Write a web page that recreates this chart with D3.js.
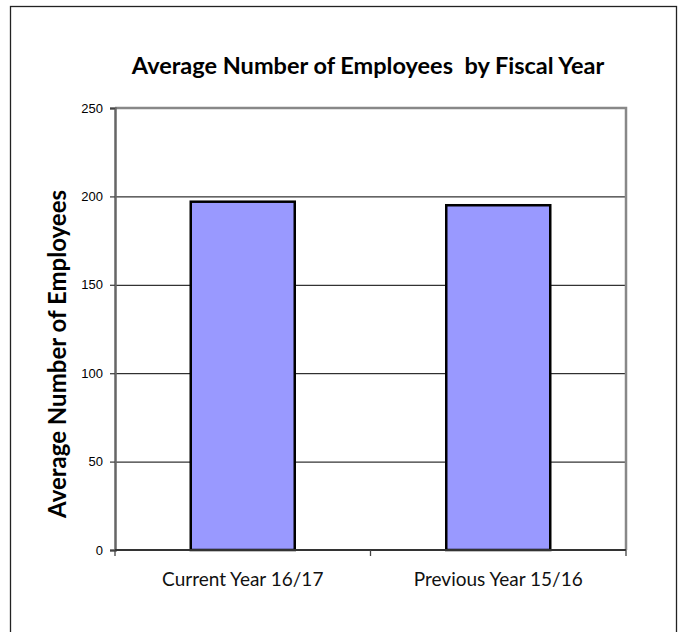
<!DOCTYPE html>
<html><head><meta charset="utf-8">
<script src="https://cdn.jsdelivr.net/npm/d3@7"></script>
<style>body{margin:0;background:#fff}</style>
</head><body>
<script>
const categories = ["Current Year 16/17", "Previous Year 15/16"];
const values = [197, 195];
const yTicks = [0, 50, 100, 150, 200, 250];
const title = "Average Number of Employees  by Fiscal Year";
const yTitle = "Average Number of Employees";

const W = 684, H = 632;
const svg = d3.select("body").append("svg").attr("width", W).attr("height", H);
svg.append("rect").attr("width", W).attr("height", H).attr("fill", "#fff");
// outer frame
svg.append("rect").attr("x", 10.5).attr("y", 6.5).attr("width", 666).attr("height", 640)
  .attr("fill", "none").attr("stroke", "#222").attr("stroke-width", 1.3);

const L = 115, R = 626, T = 108, B = 550;
const x = d3.scaleBand().domain(categories).range([L, R]).paddingInner(0).paddingOuter(0);
const y = d3.scaleLinear().domain([0, 250]).range([B, T]);

// gridlines
svg.append("g").selectAll("line").data(yTicks.filter(d => d > 0 && d < 250)).join("line")
  .attr("x1", L).attr("x2", R).attr("y1", d => y(d) + 0.5).attr("y2", d => y(d) + 0.5)
  .attr("stroke", "#000").attr("stroke-width", 1);

// plot border top/right
svg.append("path").attr("d", `M${L},${T}H${R}V${B}`).attr("fill", "none")
  .attr("stroke", "#888").attr("stroke-width", 2.5);

// bars
const bw = 104;
svg.append("g").selectAll("rect").data(categories).join("rect")
  .attr("x", d => x(d) + x.bandwidth() / 2 - bw / 2)
  .attr("y", (d, i) => y(values[i]))
  .attr("width", bw)
  .attr("height", (d, i) => B - y(values[i]))
  .attr("fill", "#9999ff").attr("stroke", "#000").attr("stroke-width", 2.5);

// y axis
const yAxis = d3.axisLeft(y).tickValues(yTicks).tickSize(5).tickPadding(7);
const gy = svg.append("g").attr("transform", `translate(${L},0)`).call(yAxis);
gy.select(".domain").attr("stroke", "#666").attr("stroke-width", 2.5);
gy.selectAll(".tick line").attr("stroke", "#444").attr("stroke-width", 1.3);
gy.selectAll(".tick text").attr("font-family", "Liberation Sans, Arial, sans-serif")
  .attr("font-size", 13).attr("fill", "#000");

// x axis
const gx = svg.append("g").attr("transform", `translate(0,${B})`);
gx.append("line").attr("x1", L).attr("x2", R).attr("y1", 0).attr("y2", 0)
  .attr("stroke", "#333").attr("stroke-width", 2);
const bounds = categories.map(c => x(c)).concat([x(categories[categories.length - 1]) + x.bandwidth()]);
gx.selectAll("line.tk").data(bounds).join("line").attr("class", "tk")
  .attr("x1", d => d).attr("x2", d => d).attr("y1", 0).attr("y2", 6)
  .attr("stroke", "#444").attr("stroke-width", 1.3);
gx.selectAll("text").data(categories).join("text")
  .attr("x", d => x(d) + x.bandwidth() / 2).attr("y", 36)
  .attr("text-anchor", "middle")
  .attr("font-family", "Lato, 'Noto Sans', sans-serif").attr("font-size", 19)
  .attr("fill", "#111").text(d => d);

// title
svg.append("text").attr("x", 368).attr("y", 74).attr("text-anchor", "middle")
  .attr("font-family", "Lato, 'Noto Sans', sans-serif").attr("font-weight", "bold")
  .attr("font-size", 23.5).style("white-space", "pre").attr("fill", "#000").text(title);

// y title
svg.append("text").attr("transform", `translate(66,354) rotate(-90)`).attr("text-anchor", "middle")
  .attr("font-family", "Lato, 'Noto Sans', sans-serif").attr("font-weight", "bold")
  .attr("font-size", 24).attr("fill", "#000").text(yTitle);
</script>
</body></html>
